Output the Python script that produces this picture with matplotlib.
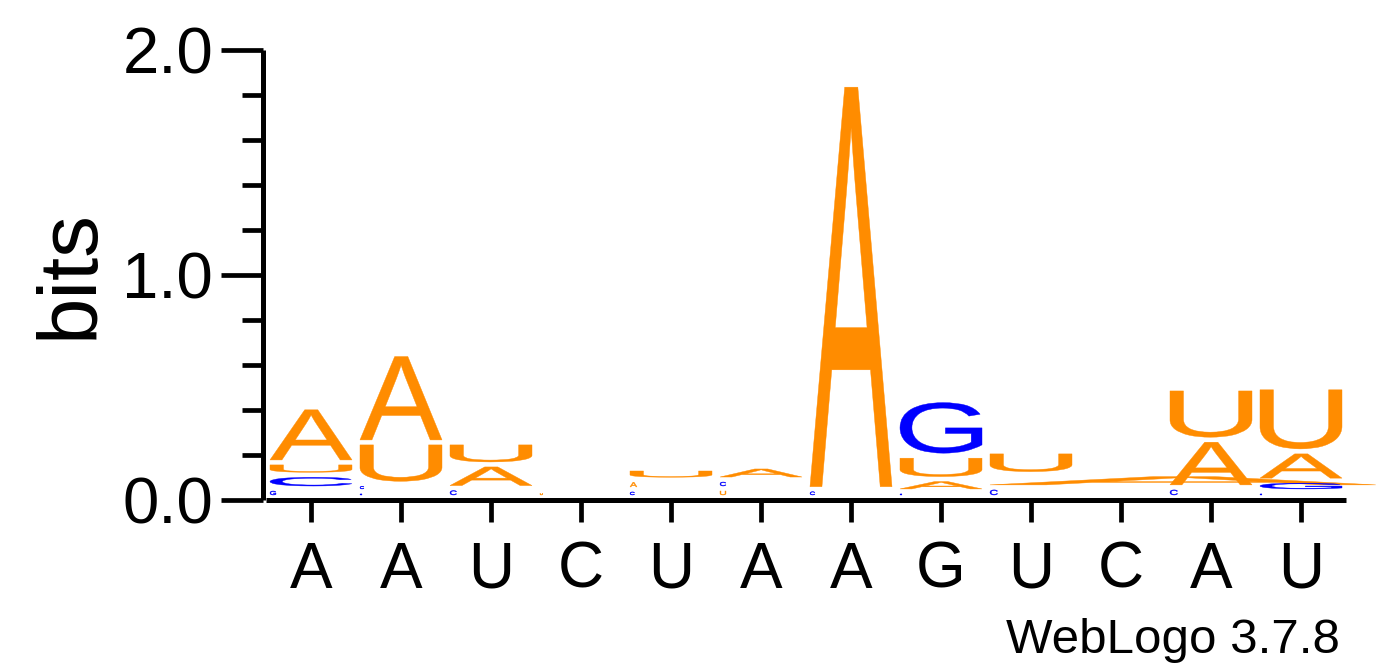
import numpy as np
import matplotlib
matplotlib.use('Agg')
import matplotlib.pyplot as plt
import matplotlib.transforms as mtransforms
from matplotlib.textpath import TextPath
from matplotlib.patches import PathPatch
from matplotlib.font_manager import FontProperties
from matplotlib.ticker import MultipleLocator

plt.rcParams['font.family'] = ['Liberation Sans', 'DejaVu Sans']

# consensus letters under each column
COLUMN_LETTERS = ['A', 'A', 'U', 'C', 'U', 'A', 'A', 'G', 'U', 'C', 'A', 'U']

# letter stacks, bottom to top, heights in bits
STACK_LETTERS = [
    ['G', 'C', 'U', 'A'],
    ['G', 'C', 'U', 'A'],
    ['C', 'A', 'U'],
    ['U'],
    ['C', 'A', 'U'],
    ['U', 'C', 'A'],
    ['C', 'A'],
    ['C', 'A', 'U', 'G'],
    ['C', 'A', 'U'],
    [],
    ['C', 'A', 'U'],
    ['C', 'G', 'A', 'U'],
]
STACK_HEIGHTS = [
    [0.040, 0.061, 0.055, 0.245],
    [0.027, 0.034, 0.184, 0.393],
    [0.042, 0.105, 0.098],
    [0.030],
    [0.036, 0.043, 0.050],
    [0.040, 0.040, 0.058],
    [0.037, 1.799],
    [0.027, 0.055, 0.104, 0.247],
    [0.045, 0.059, 0.101],
    [],
    [0.045, 0.212, 0.228],
    [0.027, 0.048, 0.130, 0.285],
]
# one glyph came out smeared over several columns (column, slot) -> widths
STRETCHED = {(8, 1): 4.33}

COLORS = {'A': '#ff8c00', 'U': '#ff8c00', 'G': '#0000ff', 'C': '#0000ff'}

PX_PER_BIT = 224.8
PX_PER_COL = 90.0
PAD_PX = 5.0
SIDE_PX = 4.0
NARROW_BELOW = 0.046

FP = FontProperties(family='Liberation Sans')


def draw_glyph(ax, letter, x0, x1, y0, y1, color):
    tp = TextPath((0, 0), letter, size=1, prop=FP)
    bb = tp.get_extents()
    tr = (mtransforms.Affine2D()
          .translate(-bb.x0, -bb.y0)
          .scale((x1 - x0) / bb.width, (y1 - y0) / bb.height)
          .translate(x0, y0))
    ax.add_patch(PathPatch(tr.transform_path(tp), fc=color, ec=color,
                           lw=0.3, zorder=3, clip_on=False))


fig = plt.figure(figsize=(13.92, 6.67), dpi=100)
W, H = 1392, 667
ax = fig.add_axes([266 / W, (H - 500) / H, 1080 / W, 449.7 / H])
ax.set_xlim(0.5, 12.5)
ax.set_ylim(0, 2)

side = SIDE_PX / PX_PER_COL
pad = PAD_PX / PX_PER_BIT
for ci, (letters, heights) in enumerate(zip(STACK_LETTERS, STACK_HEIGHTS)):
    left = ci + 1 - 0.5
    base = 0.0
    for li, (let, h) in enumerate(zip(letters, heights)):
        ink_px = max(h * PX_PER_BIT - PAD_PX, 1.0)
        y0 = base + pad
        y1 = y0 + ink_px / PX_PER_BIT
        x0 = left + side
        if (ci, li) in STRETCHED:
            x1 = x0 + STRETCHED[(ci, li)] - side
        elif h < NARROW_BELOW:
            x1 = x0 + np.clip(1.5 * ink_px, 2, 9) / PX_PER_COL
        else:
            x1 = left + 1 - side
        draw_glyph(ax, let, x0, x1, y0, y1, COLORS[let])
        base += h

for s in ['top', 'right']:
    ax.spines[s].set_visible(False)
ax.spines['left'].set_position(('outward', 2.5))
ax.spines['left'].set_linewidth(3.6)
ax.spines['bottom'].set_linewidth(3.6)
ax.spines['left'].set_capstyle('butt')
ax.spines['bottom'].set_capstyle('butt')

ax.set_yticks([0, 1, 2])
ax.set_yticklabels(['0.0', '1.0', '2.0'])
ax.yaxis.set_minor_locator(MultipleLocator(0.2))
ax.tick_params(axis='y', which='major', length=30.5, width=3.4,
               labelsize=47, pad=5)
ax.tick_params(axis='y', which='minor', length=15, width=3.4)

ax.set_xticks(np.arange(1, 13))
ax.set_xticklabels(COLUMN_LETTERS)
ax.tick_params(axis='x', which='major', length=15.5, width=3.4,
               labelsize=46, pad=14)

fig.text(71 / W, (H - 274) / H, 'bits', rotation=90, fontsize=60,
         ha='center', va='center')
fig.text(1340 / W, (H - 653) / H, 'WebLogo 3.7.8', fontsize=35.5,
         ha='right', va='baseline')

fig.savefig('out.png', dpi=100)
